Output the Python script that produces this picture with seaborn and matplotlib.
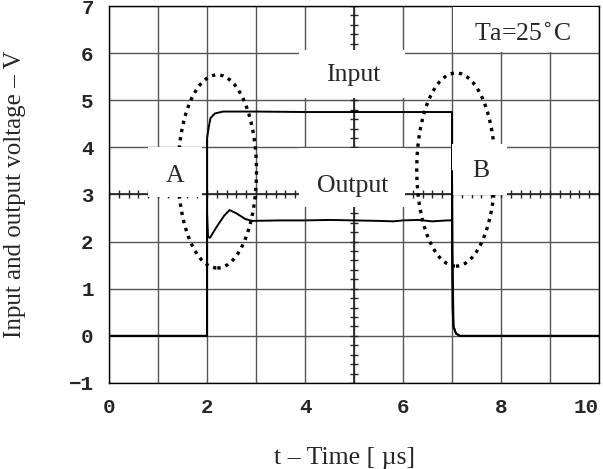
import matplotlib
matplotlib.use("Agg")
import matplotlib.pyplot as plt
from matplotlib.patches import Ellipse, Rectangle
import numpy as np
import pandas as pd
import seaborn as sns

# waveform samples (time in us, volts)
t_input = [0.0, 2.0, 2.0, 2.03, 2.07, 2.16, 2.33, 3.0, 4.0, 5.0, 6.0, 7.0, 7.0, 7.01, 7.03, 7.08, 7.16, 10.0]
v_input = [0.0, 0.0, 4.19, 4.40, 4.62, 4.72, 4.76, 4.76, 4.75, 4.75, 4.75, 4.75, 1.8, 0.6, 0.2, 0.05, 0.0, 0.0]

t_output = [0.0, 2.0, 2.0, 2.02, 2.06, 2.2, 2.35, 2.46, 2.6, 2.78, 2.92, 3.5, 4.0, 4.5, 5.0,
            5.5, 5.8, 6.0, 6.3, 6.6, 6.9, 7.0, 7.0, 7.01, 7.03, 7.08, 7.16, 10.0]
v_output = [0.0, 0.0, 2.6, 2.1, 2.08, 2.32, 2.55, 2.67, 2.6, 2.48, 2.44, 2.45, 2.45, 2.46, 2.45,
            2.44, 2.43, 2.45, 2.46, 2.43, 2.45, 2.45, 3.5, 1.8, 0.2, 0.05, 0.0, 0.0]

x_ticks = [0, 2, 4, 6, 8, 10]
y_ticks = [-1, 0, 1, 2, 3, 4, 5, 6, 7]

sns.set_theme(style="white")
plt.rcParams['font.family'] = ['Liberation Serif', 'DejaVu Serif']

df_in = pd.DataFrame({'t': t_input, 'v': v_input})
df_out = pd.DataFrame({'t': t_output, 'v': v_output})

fig = plt.figure(figsize=(6.03, 4.69), dpi=100)
ax = fig.add_axes([0.1808, 0.1834, 0.8126, 0.8038])

ax.set_xlim(0, 10)
ax.set_ylim(-1, 7)

ax.set_xticks(x_ticks, labels=[str(v) for v in x_ticks])
ax.set_yticks(y_ticks, labels=[str(v).replace('-', '\u2212') for v in y_ticks])
ax.set_xticks(np.arange(0, 11, 1), minor=True)

# scope graticule
ax.grid(which='both', color='#555555', lw=1.0, zorder=0.5)
ax.set_axisbelow(True)
ax.axhline(3, color='#222222', lw=1.2, zorder=1)
ax.axvline(5, color='#222222', lw=1.2, zorder=1)
tk = np.arange(0, 10.01, 0.2)
ax.plot(tk, np.full(len(tk), 3.0), ls='none', marker='|', ms=6, mew=1.0, color='#222222', zorder=1)
tv = np.arange(-1, 7.01, 0.2)
ax.plot(np.full(len(tv), 5.0), tv, ls='none', marker='_', ms=6, mew=1.0, color='#222222', zorder=1)

# traces
sns.lineplot(data=df_in, x='t', y='v', estimator=None, sort=False, color='black', lw=1.4, ax=ax, zorder=2)
sns.lineplot(data=df_out, x='t', y='v', estimator=None, sort=False, color='black', lw=1.4, ax=ax, zorder=4)

# dotted regions A and B
for cx, cy in [(2.21, 3.49), (7.08, 3.53)]:
    ax.add_patch(Ellipse((cx, cy), 1.6, 4.1, fill=False, ec='black', lw=2.4,
                         ls=(0, (1, 1.5)), zorder=2.6))

# white label boxes
boxes = [(3.88, 5.05, 2.16, 1.02), (3.88, 2.73, 2.16, 1.25), (0.8, 2.95, 1.1, 1.05),
         (6.99, 2.98, 1.13, 1.1), (7.02, 6.02, 2.96, 0.96)]
for x0, y0, w, h in boxes:
    ax.add_patch(Rectangle((x0, y0), w, h, fc='white', ec='none', zorder=3))

tfont = dict(fontsize=18.5, ha='center', va='baseline', zorder=5)
ax.text(4.99, 5.40, 'Input', **tfont)
ax.text(4.97, 3.06, 'Output', **tfont)
ax.text(1.35, 3.26, 'A', **tfont)
ax.text(7.59, 3.37, 'B', **tfont)
ax.text(8.45, 6.25, 'Ta=25$^{\\circ}$C', **tfont)

ax.tick_params(which='both', length=0, pad=11)
for lab in ax.get_xticklabels() + ax.get_yticklabels():
    lab.set_fontfamily('Liberation Mono')
    lab.set_fontweight('bold')
    lab.set_fontsize(15)
ax.get_xticklabels()[-1].set_horizontalalignment('right')

ax.set_xlabel('t \u2013 Time [ \u00b5s]', fontsize=18.5)
ax.set_ylabel('Input and output voltage \u2013 V', fontsize=18)
ax.xaxis.set_label_coords(0.48, -0.17)
ax.yaxis.set_label_coords(-0.169, 0.5)

for s in ax.spines.values():
    s.set_color('black')
    s.set_linewidth(1.0)

fig.savefig('out.png', dpi=100)
